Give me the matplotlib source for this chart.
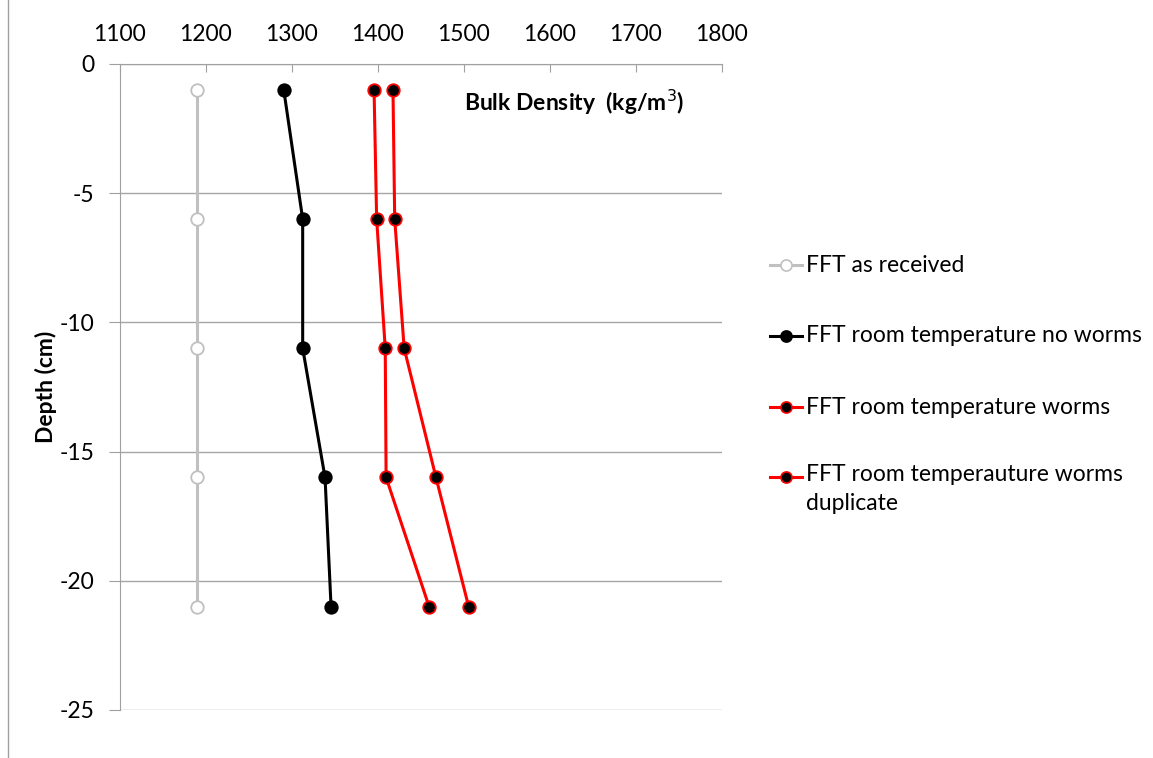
import matplotlib
matplotlib.use('Agg')
from matplotlib import pyplot as plt
from matplotlib.lines import Line2D
from matplotlib.transforms import offset_copy

plt.rcParams['font.family'] = ['Lato', 'DejaVu Sans']
plt.rcParams['axes.unicode_minus'] = False

depth = [-1, -6, -11, -16, -21]
as_received = [1190, 1190, 1190, 1190, 1190]
no_worms = [1291, 1313, 1313, 1339, 1346]
worms = [1396, 1399, 1409, 1410, 1460]
worms_dup = [1418, 1420, 1431, 1468, 1506]
labels = ['FFT as received', 'FFT room temperature no worms',
          'FFT room temperature worms', 'FFT room temperauture worms\nduplicate']

FS = 16.5

fig = plt.figure(figsize=(11.53, 7.58), dpi=100)
ax = fig.add_axes([119.5 / 1153, 1 - 710 / 758, 602 / 1153, 646 / 758])

gray = '#c0c0c0'
series = [
    (as_received, dict(color=gray, marker='o', mfc='white', mec=gray)),
    (no_worms, dict(color='black', marker='o', mfc='black', mec='black')),
    (worms, dict(color='red', marker='o', mfc='black', mec='red')),
    (worms_dup, dict(color='red', marker='o', mfc='black', mec='red')),
]
for vals, st in series:
    ax.plot(vals, depth, lw=2.2, ms=9, mew=1.3, **st)

ax.set_xlim(1100, 1800)
ax.set_ylim(-25, 0)
ax.set_xticks(range(1100, 1801, 100))
ax.set_yticks(range(-25, 1, 5))
ax.xaxis.tick_top()
ax.tick_params(axis='x', direction='in', length=6, color='#a0a0a0', pad=14, labelsize=FS)
ax.tick_params(axis='y', direction='out', length=8, color='#a0a0a0', pad=10, labelsize=FS)
ax.yaxis.grid(True, color='#a6a6a6', lw=1)
ax.set_axisbelow(True)
for s in ['right', 'bottom']:
    ax.spines[s].set_visible(False)
for s in ['left', 'top']:
    ax.spines[s].set_color('#a0a0a0')
ax.set_ylabel('Depth (cm)', fontsize=FS, fontweight='bold', labelpad=2)
ax.text(0.755, 0.94, 'Bulk Density  (kg/m$^3$)', transform=ax.transAxes,
        ha='center', va='center', fontsize=FS, fontweight='bold')

# legend drawn by hand so the handle sits on the first line
leg_y = [265, 336, 407, 477]
for (vals, st), lab, yy in zip(series, labels, leg_y):
    yf = 1 - yy / 758
    fig.add_artist(Line2D([770 / 1153, 786 / 1153, 802 / 1153], [yf] * 3, lw=2.2,
                          ms=8, mew=1.2, markevery=[1], **st))
    if '\n' in lab:
        tr = offset_copy(fig.transFigure, fig=fig, y=13, units='dots')
        fig.text(806 / 1153, yf, lab, ha='left', va='top', fontsize=FS,
                 linespacing=1.5, transform=tr)
    else:
        fig.text(806 / 1153, yf, lab, ha='left', va='center', fontsize=FS)

fig.add_artist(Line2D([8 / 1153, 8 / 1153], [0, 1], color='#a0a0a0', lw=1))

fig.savefig('out.png', dpi=100)
